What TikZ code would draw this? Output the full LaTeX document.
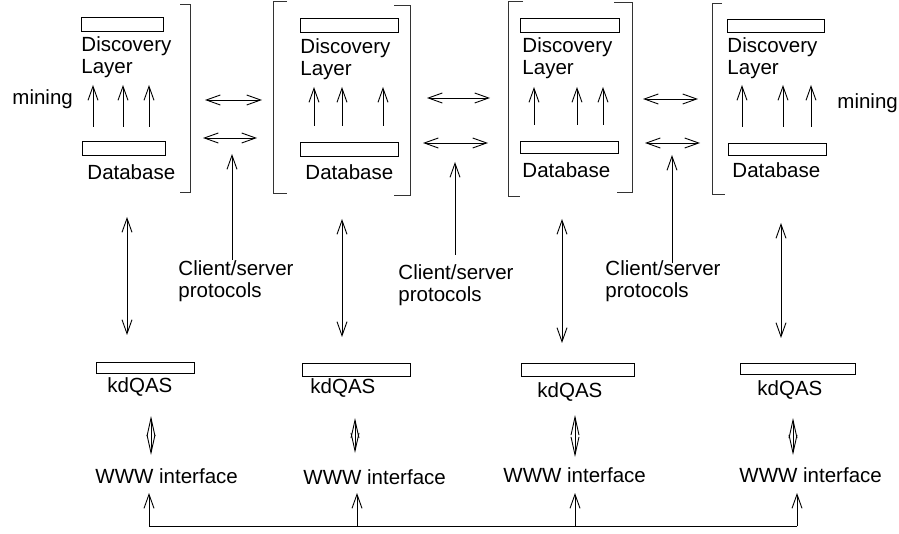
\documentclass[tikz,border=0pt]{standalone}
\usepackage{fontspec}
\setmainfont{Liberation Sans}
\usetikzlibrary{arrows.meta}
\tikzset{
  barb/.tip={Straight Barb[length=14pt,width=10pt]},
  longbarb/.tip={Straight Barb[length=18pt,width=8pt]},
  bar/.style={draw, inner sep=0pt, outer sep=0pt},
  lbl/.style={anchor=west, inner sep=0pt, align=left},
  brk/.style={draw=black!80, line width=1pt},
  one/.style={-barb},
  two/.style={barb-barb},
  dia/.style={longbarb-longbarb},
}
\begin{document}
\begin{tikzpicture}[x=1pt,y=-1pt,line width=0.9pt,
  font=\fontsize{20.5}{22}\selectfont]
\useasboundingbox (0,0) rectangle (899,534);

% ---- top bars (discovery layer) and database bars ----
\node[bar, minimum width=82pt, minimum height=14pt] (t1) at (122,24) {};
\node[bar, minimum width=98pt, minimum height=14pt] (t2) at (349,25) {};
\node[bar, minimum width=99pt, minimum height=14pt] (t3) at (569.5,25) {};
\node[bar, minimum width=97pt, minimum height=13pt] (t4) at (775.5,25.5) {};
\node[bar, minimum width=83pt, minimum height=14pt] (d1) at (123.5,148) {};
\node[bar, minimum width=98pt, minimum height=14pt] (d2) at (349,149) {};
\node[bar, minimum width=98pt, minimum height=12pt] (d3) at (569,147) {};
\node[bar, minimum width=98pt, minimum height=12pt] (d4) at (777,149) {};

% ---- labels inside the sites ----
\node[lbl] (dl1) at (81,57) {Discovery\\Layer};
\node[lbl] (dl2) at (300,59) {Discovery\\Layer};
\node[lbl] (dl3) at (522,58) {Discovery\\Layer};
\node[lbl] (dl4) at (727,58) {Discovery\\Layer};
\node[lbl] (db1) at (87,172) {Database};
\node[lbl] (db2) at (305,172) {Database};
\node[lbl] (db3) at (522,170) {Database};
\node[lbl] (db4) at (732,170) {Database};
\node[lbl] (mineL) at (12,99) {mining};
\node[lbl] (mineR) at (837,103) {mining};

% ---- mining arrows from database up to discovery layer ----
\foreach \x in {93,123,149}  \draw[one] (\x,127) -- (\x,85);
\foreach \x in {314,342,383} \draw[one] (\x,126) -- (\x,87);
\foreach \x in {534,577,603} \draw[one] (\x,125) -- (\x,87);
\foreach \x in {742,783,811} \draw[one] (\x,127) -- (\x,85);

% ---- brackets round each site ----
\draw[brk] (180,5) -- (190,5) -- (190,193) -- (180,193);
\draw[brk] (287,2) -- (273,2) -- (273,194) -- (287,194);
\draw[brk] (394,6) -- (410,6) -- (410,196) -- (394,196);
\draw[brk] (523,2) -- (508,2) -- (508,197) -- (520,197);
\draw[brk] (614,3) -- (632,3) -- (632,193) -- (617,193);
\draw[brk] (722,4) -- (712,4) -- (712,195) -- (725,195);

% ---- links between neighbouring sites ----
\coordinate (a1) at (205,100); \coordinate (b1) at (262,100);
\coordinate (a2) at (203,138); \coordinate (b2) at (257,138);
\coordinate (a3) at (427,98);  \coordinate (b3) at (490,98);
\coordinate (a4) at (423,143); \coordinate (b4) at (488,143);
\coordinate (a5) at (643,99);  \coordinate (b5) at (698,99);
\coordinate (a6) at (645,143); \coordinate (b6) at (700,143);
\foreach \i in {1,...,6} \draw[two] (a\i) -- (b\i);

% ---- client/server protocol labels and arrows ----
\node[lbl] (cs1) at (178,281) {Client/server\\protocols};
\node[lbl] (cs2) at (398,285) {Client/server\\protocols};
\node[lbl] (cs3) at (605,281) {Client/server\\protocols};
\coordinate (c1) at (232,154);
\coordinate (c2) at (455,162);
\coordinate (c3) at (672,155);
\draw[one] (232,260) -- (c1);
\draw[one] (455,255) -- (c2);
\draw[one] (672,263) -- (c3);

% ---- kdQAS bars and labels ----
\node[bar, minimum width=98pt,  minimum height=11pt] (q1) at (145,367.5) {};
\node[bar, minimum width=108pt, minimum height=13pt] (q2) at (356,369.5) {};
\node[bar, minimum width=113pt, minimum height=13pt] (q3) at (577.5,369.5) {};
\node[bar, minimum width=115pt, minimum height=11pt] (q4) at (797.5,368.5) {};
\node[lbl] (ql1) at (107,387) {kdQAS};
\node[lbl] (ql2) at (310,388) {kdQAS};
\node[lbl] (ql3) at (537,392) {kdQAS};
\node[lbl] (ql4) at (757,390) {kdQAS};

% ---- site to kdQAS ----
\draw[two] (127,217) -- (127,335);
\draw[two] (342,219) -- (342,337);
\draw[two] (562,219) -- (562,343);
\draw[two] (781,223) -- (781,338);

% ---- kdQAS to WWW interface ----
\draw[dia] (151,416) -- (151,455);
\draw[dia] (355,418) -- (355,453);
\draw[dia] (575,415) -- (575,457);
\draw[dia] (793,418) -- (793,455);

\node[lbl] (w1) at (95,476)  {WWW interface};
\node[lbl] (w2) at (303,477) {WWW interface};
\node[lbl] (w3) at (503,475) {WWW interface};
\node[lbl] (w4) at (739,475) {WWW interface};

% ---- common bus under the interfaces ----
\coordinate (bus1) at (149,526);
\coordinate (bus2) at (357,526);
\coordinate (bus3) at (575,526);
\coordinate (bus4) at (797,526);
\draw (bus1) -- (bus4);
\draw[one] (bus1) -- (149,493);
\draw[one] (bus2) -- (357,493);
\draw[one] (bus3) -- (575,493);
\draw[one] (bus4) -- (797,493);
\end{tikzpicture}
\end{document}
